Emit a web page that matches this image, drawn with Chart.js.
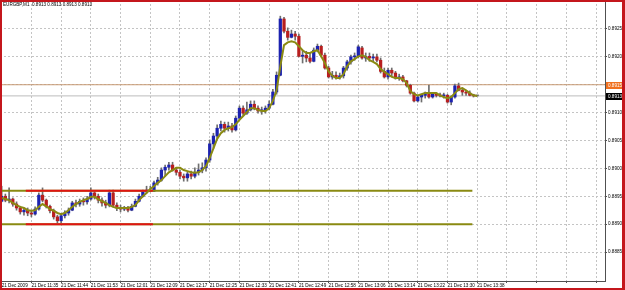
<!DOCTYPE html>
<html><head><meta charset="utf-8">
<script src="https://cdn.jsdelivr.net/npm/chart.js@4.4.1/dist/chart.umd.min.js"></script>
<style>
html,body{margin:0;padding:0;background:#fff;}
#wrap{position:relative;width:625px;height:290px;overflow:hidden;background:#fff;}
#frame{position:absolute;left:0;top:0;width:625px;height:290px;box-sizing:border-box;border:2px solid #c4161c;border-right-width:3px;pointer-events:none;}
#hdr{position:absolute;left:3px;top:2px;font:4.6px 'Liberation Sans',Arial,sans-serif;color:#000;white-space:pre;line-height:6px;}
</style></head><body>
<div id="wrap"><canvas id="c" width="625" height="290"></canvas><div id="hdr"></div><div id="frame"></div></div>
<script>
const symbol = 'EURGBP,M1';
const timeLabels = ['21 Dec 2009','21 Dec 11:35','21 Dec 11:44','21 Dec 11:53','21 Dec 12:01','21 Dec 12:09','21 Dec 12:17','21 Dec 12:25','21 Dec 12:33','21 Dec 12:41','21 Dec 12:49','21 Dec 12:58','21 Dec 13:06','21 Dec 13:14','21 Dec 13:22','21 Dec 13:30','21 Dec 13:38'];
const gridBars = [0,8,16,24,32,40,48,56,64,72,80,88,96,104,112,120,128,136,144,152,160];
const priceTicks = [0.8885,0.8890,0.8895,0.8900,0.8905,0.8910,0.8915,0.8920,0.8925,0.8930];

const open = [
0.88941,0.88950,0.88943,0.88945,0.88936,0.88929,0.88922,0.88925,0.88920,0.88918,
0.88927,0.88952,0.88943,0.88932,0.88924,0.88913,0.88906,0.88915,0.88920,0.88925,
0.88938,0.88936,0.88941,0.88940,0.88945,0.88956,0.88950,0.88943,0.88938,0.88934,
0.88956,0.88934,0.88929,0.88927,0.88929,0.88925,0.88932,0.88941,0.88950,0.88958,
0.88961,0.88959,0.88974,0.88979,0.88997,0.89002,0.89006,0.88997,0.88993,0.88986,
0.88983,0.88990,0.88986,0.88993,0.88997,0.89001,0.89015,0.89044,0.89058,0.89072,
0.89079,0.89072,0.89076,0.89069,0.89090,0.89108,0.89099,0.89105,0.89115,0.89108,
0.89103,0.89105,0.89108,0.89115,0.89137,0.89167,0.89268,0.89246,0.89235,0.89241,
0.89237,0.89201,0.89203,0.89198,0.89192,0.89212,0.89219,0.89203,0.89180,0.89164,
0.89167,0.89164,0.89166,0.89180,0.89191,0.89200,0.89201,0.89216,0.89198,0.89201,
0.89198,0.89200,0.89194,0.89174,0.89164,0.89176,0.89171,0.89162,0.89164,0.89157,
0.89149,0.89135,0.89121,0.89128,0.89131,0.89135,0.89128,0.89133,0.89131,0.89130,
0.89131,0.89119,0.89128,0.89148,0.89140,0.89137,0.89135,0.89131,0.89130];
const high = [
0.88968,0.88954,0.88965,0.88947,0.88940,0.88932,0.88929,0.88929,0.88925,0.88931,
0.88956,0.88965,0.88945,0.88934,0.88927,0.88916,0.88918,0.88924,0.88929,0.88941,
0.88943,0.88945,0.88947,0.88950,0.88965,0.88959,0.88954,0.88947,0.88943,0.88961,
0.88961,0.88938,0.88934,0.88932,0.88932,0.88936,0.88945,0.88954,0.88961,0.88968,
0.88968,0.88977,0.88984,0.89001,0.89006,0.89011,0.89011,0.89001,0.88997,0.88990,
0.88993,0.88995,0.89001,0.89008,0.89010,0.89019,0.89051,0.89063,0.89078,0.89085,
0.89083,0.89083,0.89081,0.89094,0.89112,0.89112,0.89119,0.89121,0.89121,0.89112,
0.89110,0.89112,0.89121,0.89142,0.89173,0.89273,0.89271,0.89252,0.89248,0.89246,
0.89241,0.89212,0.89210,0.89207,0.89216,0.89223,0.89221,0.89207,0.89183,0.89174,
0.89173,0.89171,0.89183,0.89194,0.89203,0.89207,0.89221,0.89219,0.89207,0.89207,
0.89205,0.89205,0.89198,0.89180,0.89180,0.89180,0.89174,0.89169,0.89167,0.89158,
0.89151,0.89137,0.89131,0.89133,0.89137,0.89149,0.89135,0.89135,0.89135,0.89135,
0.89133,0.89130,0.89151,0.89153,0.89144,0.89140,0.89139,0.89133,0.89130];
const low = [
0.88940,0.88940,0.88938,0.88932,0.88925,0.88918,0.88916,0.88915,0.88913,0.88916,
0.88925,0.88940,0.88929,0.88920,0.88909,0.88902,0.88902,0.88911,0.88916,0.88924,
0.88931,0.88932,0.88934,0.88936,0.88943,0.88945,0.88938,0.88932,0.88929,0.88931,
0.88931,0.88924,0.88922,0.88924,0.88922,0.88924,0.88931,0.88940,0.88949,0.88956,
0.88958,0.88958,0.88970,0.88977,0.88986,0.88997,0.88995,0.88988,0.88981,0.88977,
0.88977,0.88981,0.88983,0.88988,0.88992,0.88995,0.89011,0.89036,0.89054,0.89067,
0.89065,0.89067,0.89065,0.89067,0.89087,0.89096,0.89097,0.89103,0.89105,0.89099,
0.89097,0.89099,0.89105,0.89114,0.89133,0.89166,0.89243,0.89230,0.89234,0.89230,
0.89200,0.89189,0.89191,0.89189,0.89191,0.89209,0.89200,0.89178,0.89162,0.89160,
0.89160,0.89160,0.89162,0.89176,0.89187,0.89194,0.89198,0.89196,0.89192,0.89192,
0.89192,0.89191,0.89171,0.89162,0.89160,0.89166,0.89160,0.89158,0.89155,0.89146,
0.89133,0.89119,0.89119,0.89119,0.89126,0.89126,0.89126,0.89128,0.89128,0.89126,
0.89117,0.89114,0.89126,0.89139,0.89131,0.89131,0.89130,0.89128,0.89130];
const close = [
0.88950,0.88943,0.88945,0.88936,0.88929,0.88922,0.88925,0.88920,0.88918,0.88927,
0.88952,0.88943,0.88932,0.88924,0.88913,0.88906,0.88915,0.88920,0.88925,0.88938,
0.88936,0.88941,0.88940,0.88945,0.88956,0.88950,0.88943,0.88938,0.88934,0.88956,
0.88934,0.88929,0.88927,0.88929,0.88925,0.88932,0.88941,0.88950,0.88958,0.88961,
0.88959,0.88974,0.88979,0.88997,0.89002,0.89006,0.88997,0.88993,0.88986,0.88983,
0.88990,0.88986,0.88993,0.88997,0.89001,0.89015,0.89044,0.89058,0.89072,0.89079,
0.89072,0.89076,0.89069,0.89090,0.89108,0.89099,0.89105,0.89115,0.89108,0.89103,
0.89105,0.89108,0.89115,0.89137,0.89167,0.89268,0.89246,0.89235,0.89241,0.89237,
0.89201,0.89203,0.89198,0.89192,0.89212,0.89219,0.89203,0.89180,0.89164,0.89167,
0.89164,0.89166,0.89180,0.89191,0.89200,0.89201,0.89218,0.89198,0.89201,0.89198,
0.89200,0.89194,0.89174,0.89164,0.89176,0.89171,0.89162,0.89164,0.89157,0.89149,
0.89135,0.89121,0.89128,0.89131,0.89135,0.89128,0.89133,0.89131,0.89130,0.89131,
0.89119,0.89128,0.89148,0.89140,0.89137,0.89135,0.89131,0.89130,0.89130];
const movingAverage = [
0.88947,0.88945,0.88943,0.88938,0.88934,0.88931,0.88929,0.88925,0.88924,0.88925,
0.88931,0.88936,0.88932,0.88927,0.88924,0.88920,0.88918,0.88920,0.88925,0.88931,
0.88936,0.88940,0.88943,0.88945,0.88949,0.88949,0.88945,0.88941,0.88938,0.88934,
0.88931,0.88929,0.88929,0.88929,0.88929,0.88931,0.88934,0.88943,0.88950,0.88956,
0.88963,0.88968,0.88974,0.88979,0.88986,0.88993,0.88997,0.89001,0.89001,0.88997,
0.88995,0.88993,0.88992,0.88993,0.88997,0.89004,0.89019,0.89036,0.89053,0.89063,
0.89069,0.89072,0.89074,0.89079,0.89087,0.89094,0.89101,0.89108,0.89108,0.89105,
0.89103,0.89103,0.89108,0.89121,0.89140,0.89183,0.89221,0.89226,0.89228,0.89226,
0.89219,0.89212,0.89207,0.89207,0.89210,0.89212,0.89201,0.89189,0.89174,0.89166,
0.89162,0.89162,0.89169,0.89183,0.89192,0.89196,0.89201,0.89203,0.89200,0.89194,
0.89191,0.89187,0.89178,0.89173,0.89169,0.89164,0.89162,0.89162,0.89160,0.89153,
0.89139,0.89133,0.89131,0.89133,0.89135,0.89135,0.89135,0.89135,0.89131,0.89128,
0.89126,0.89128,0.89135,0.89142,0.89144,0.89140,0.89135,0.89131,0.89130];

// horizontal levels drawn on the chart
const channelLevels = [0.8896, 0.8890];      // olive support / resistance
const channelRange = [-5, 126.7];             // bars spanned by olive lines
const rangeLevels = [0.8896, 0.8890];        // red range lines
const rangeBars = [6.5, 40.7];                // bars spanned by red lines
const alertLevel = 0.8915;                    // brown horizontal line
const bidPrice = 0.8913;

const BULL = '#1c22b0', BEAR = '#b81f1f', WICK = '#6e6e6e';
const OLIVE = '#8a8a12';
const last = close.length - 1;
const f4 = v => v.toFixed(4);
document.getElementById('hdr').textContent = symbol + '  ' + [open[last], high[last], low[last], close[last]].map(f4).join(' ');

const idx = close.map((_, i) => i);
const wickData = idx.map(i => ({x: i, y: [low[i], high[i]]}));
const bodyData = idx.map(i => ({x: i, y: [open[i], close[i]]}));
const bodyColors = idx.map(i => close[i] > open[i] ? BULL : (close[i] < open[i] ? BEAR : WICK));
const maData = idx.map(i => ({x: i, y: movingAverage[i]}));

function levelLine(level, range, color, width, order) {
  return {type: 'line', data: [{x: range[0], y: level}, {x: range[1], y: level}], borderColor: color,
    borderWidth: width, pointRadius: 0, order: order, tension: 0};
}
const X_MIN = -0.45, X_MAX = 162.4;
const Y_MIN = 0.88798, Y_MAX = 0.89302;
const FONT = {family: "'Liberation Sans', Arial, sans-serif", size: 4.6};

const priceTags = {
  id: 'priceTags',
  afterDraw(chart) {
    const {ctx, chartArea, scales: {y}} = chart;
    [[alertLevel, '#f0701e', '#fff'], [bidPrice, '#000', '#fff']].forEach(([p, bg, fg]) => {
      const py = Math.round(y.getPixelForValue(p));
      ctx.save();
      ctx.fillStyle = bg; ctx.fillRect(chartArea.right + 1, py - 3, 18, 7);
      ctx.fillStyle = fg; ctx.font = "4.6px 'Liberation Sans', Arial, sans-serif";
      ctx.textBaseline = 'middle'; ctx.textAlign = 'left';
      ctx.fillText(f4(p), chartArea.right + 3, py + 0.5);
      ctx.restore();
    });
  }
};

new Chart(document.getElementById('c'), {
  type: 'line',
  data: {
    datasets: [
      {type: 'line', data: maData, borderColor: OLIVE, borderWidth: 2, pointRadius: 0, order: 0, tension: 0},
      levelLine(rangeLevels[0], rangeBars, '#e01414', 2, 1),
      levelLine(rangeLevels[1], rangeBars, '#e01414', 2, 1),
      levelLine(channelLevels[0], channelRange, OLIVE, 2, 2),
      levelLine(channelLevels[1], channelRange, OLIVE, 2, 2),
      {type: 'bar', data: bodyData, backgroundColor: bodyColors, barThickness: 2.6, minBarLength: 1, grouped: false, order: 3, borderWidth: 0},
      {type: 'bar', data: wickData, backgroundColor: WICK, barThickness: 1, grouped: false, order: 4, borderWidth: 0},
      levelLine(alertLevel, [-5, 200], '#c89a74', 1, 5),
      levelLine(bidPrice, [-5, 200], '#bcbcbc', 1, 5)
    ]
  },
  options: {
    responsive: false, animation: false, parsing: true,
    layout: {padding: 0},
    plugins: {legend: {display: false}, tooltip: {enabled: false}, title: {display: false}},
    scales: {
      x: {
        type: 'linear', min: X_MIN, max: X_MAX, offset: false,
        afterBuildTicks: s => { s.ticks = gridBars.map(v => ({value: v})); },
        afterFit: s => { s.height = 9; s.paddingLeft = 0; s.paddingRight = 0; },
        ticks: {autoSkip: false, maxRotation: 0, minRotation: 0, align: 'start', padding: 0, color: '#000', font: FONT,
          callback: (v, i) => timeLabels[i] || ''},
        grid: {color: '#c4c4c4', lineWidth: 1, drawTicks: true, tickLength: 2, tickColor: '#505050', tickBorderDash: [], offset: false},
        border: {display: true, color: '#505050', width: 1, dash: [2, 2]}
      },
      y: {
        type: 'linear', position: 'right', min: Y_MIN, max: Y_MAX,
        afterBuildTicks: s => { s.ticks = priceTicks.map(v => ({value: v})); },
        afterFit: s => { s.width = 20; s.paddingTop = 0; s.paddingBottom = 0; },
        ticks: {padding: 1, color: '#000', font: FONT, callback: v => f4(v)},
        grid: {color: '#c4c4c4', lineWidth: 1, drawTicks: true, tickLength: 2, tickColor: '#505050', tickBorderDash: []},
        border: {display: true, color: '#505050', width: 1, dash: [2, 2]}
      }
    }
  },
  plugins: [priceTags]
});
</script>
</body></html>
